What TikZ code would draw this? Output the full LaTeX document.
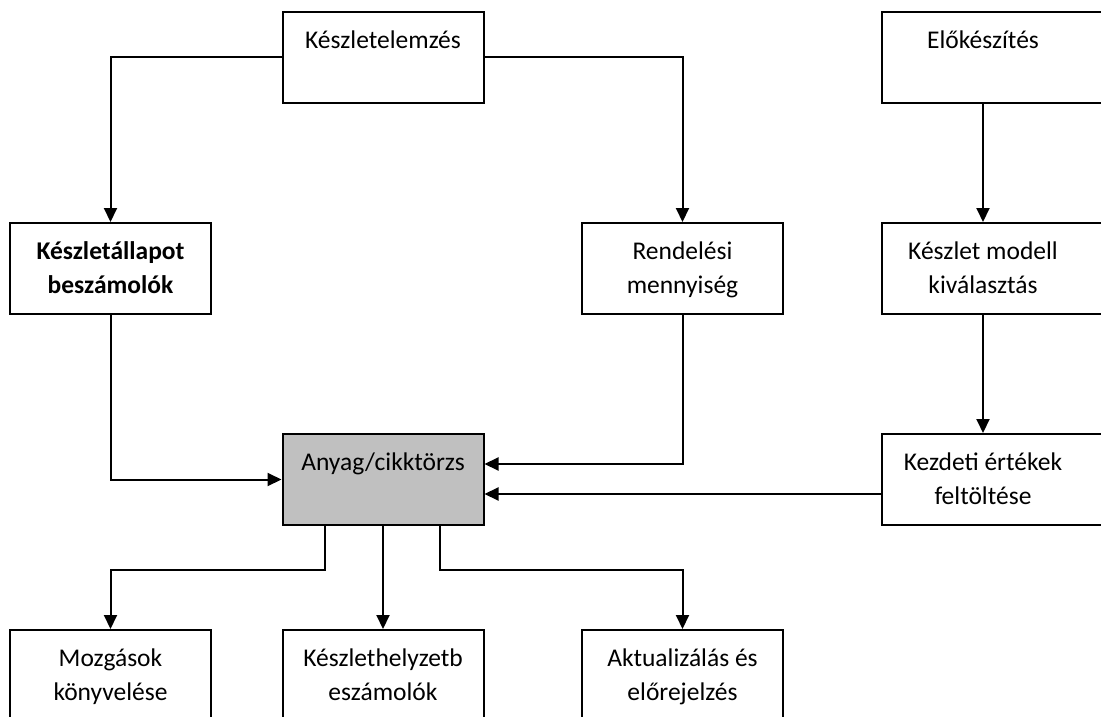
\documentclass[tikz,border=0pt]{standalone}
\usepackage{fontspec}
\setmainfont{Carlito}
\usetikzlibrary{arrows.meta}
\newcommand{\firststrut}{\rule{0pt}{22pt}}
\begin{document}
\begin{tikzpicture}[x=1pt,y=-1pt,
  box/.style={draw,line width=2pt,minimum width=201pt,minimum height=91pt,inner sep=0pt},
  wbox/.style={box,minimum width=228pt},
  lbl/.style={anchor=north,font=\fontsize{25.5}{34}\selectfont,align=center,inner sep=0pt,yshift=-15pt},
  arr/.style={line width=2pt,-{Triangle[length=14pt,width=13pt]}}]
\useasboundingbox (0,0) rectangle (1101,717);
\clip (0,0) rectangle (1101,717);
% boxes
\node[box] (kel) at (383,57.5) {};
\node[box] (kap) at (110.5,268.5) {};
\node[box] (ren) at (682.5,268.5) {};
\node[wbox] (elo) at (996,57.5) {};
\node[wbox] (kmv) at (996,268.5) {};
\node[box,fill={rgb,255:red,192;green,192;blue,192}] (any) at (383,479.5) {};
\node[wbox] (kez) at (996,479.5) {};
\node[box] (moz) at (110.5,675.5) {};
\node[box] (ksz) at (383,675.5) {};
\node[box] (akt) at (682.5,675.5) {};
% labels
\node[lbl] (tkel) at (kel.north) {\firststrut Készletelemzés};
\node[lbl,font=\fontsize{25.5}{34}\selectfont\bfseries] (tkap) at (kap.north) {\firststrut Készletállapot\\beszámolók};
\node[lbl] (tren) at (ren.north) {\firststrut Rendelési\\mennyiség};
\coordinate (rc) at (983,0);
\node[lbl] (telo) at (elo.north -| rc) {\firststrut Előkészítés};
\node[lbl] (tkmv) at (kmv.north -| rc) {\firststrut Készlet modell\\kiválasztás};
\node[lbl] (tany) at (any.north) {\firststrut Anyag/cikktörzs};
\node[lbl] (tkez) at (kez.north -| rc) {\firststrut Kezdeti értékek\\feltöltése};
\node[lbl] (tmoz) at (moz.north) {\firststrut Mozgások\\könyvelése};
\node[lbl] (tksz) at (ksz.north) {\firststrut Készlethelyzetb\\eszámolók};
\node[lbl] (takt) at (akt.north) {\firststrut Aktualizálás és\\előrejelzés};
% connectors
\draw[arr] (kel.west) -| (kap.north);
\draw[arr] (kel.east) -| (ren.north);
\draw[arr] (elo.south -| rc) -- (kmv.north -| rc);
\draw[arr] (kmv.south -| rc) -- (kez.north -| rc);
\draw[arr] (kap.south) |- (any.west);
\draw[arr] (ren.south) |- ([yshift=15.5pt]any.east);
\draw[arr] ([yshift=-14.5pt]kez.west) -- ([yshift=-14.5pt]any.east);
\draw[arr] ([xshift=-58pt]any.south) -- ++(0,44) -| (moz.north);
\draw[arr] (any.south) -- (ksz.north);
\draw[arr] ([xshift=57pt]any.south) -- ++(0,44) -| (akt.north);
\end{tikzpicture}
\end{document}
